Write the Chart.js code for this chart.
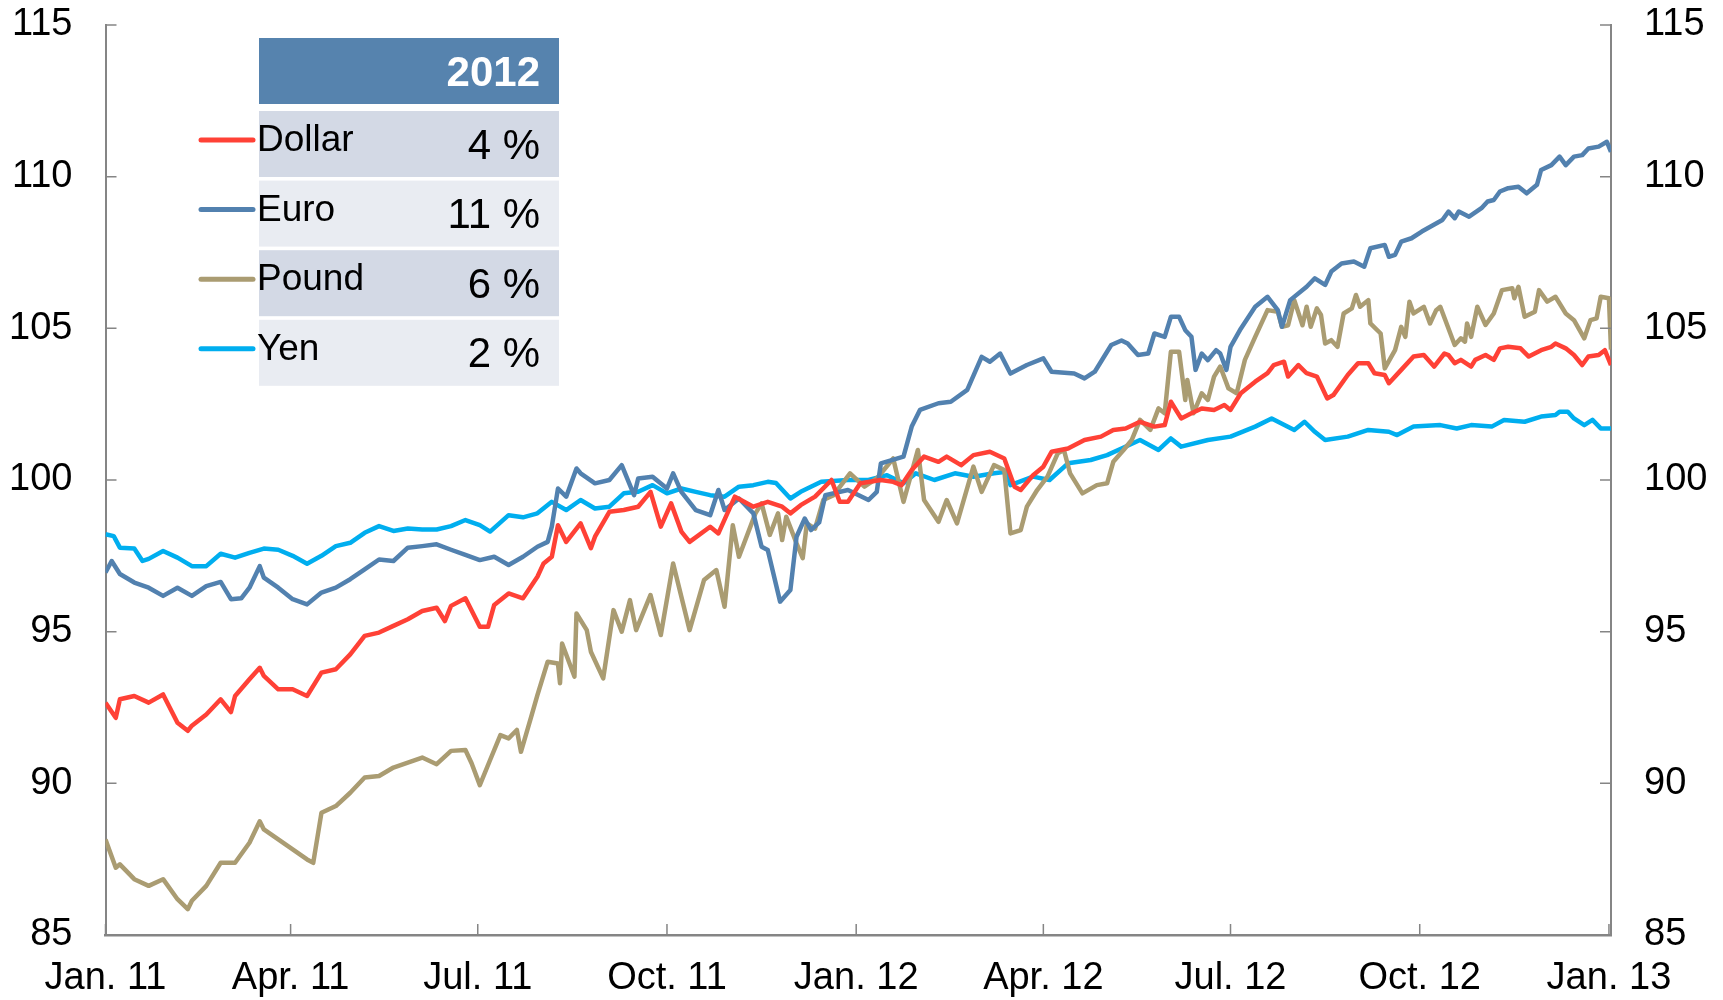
<!DOCTYPE html>
<html>
<head>
<meta charset="utf-8">
<script src="https://cdn.jsdelivr.net/npm/chart.js@4/dist/chart.umd.min.js"></script>
<style>
  html, body { margin: 0; padding: 0; background: #fff; }
  #wrap { width: 1723px; height: 1000px; }
</style>
</head>
<body>
<div id="wrap"><canvas id="fxChart" width="1723" height="1000"></canvas></div>
<script>
// x values are days since 1 Jan 2011
const xTickDays = [0, 90, 181, 273, 365, 456, 547, 639, 731];
const xTickLabels = ['Jan. 11', 'Apr. 11', 'Jul. 11', 'Oct. 11', 'Jan. 12', 'Apr. 12', 'Jul. 12', 'Oct. 12', 'Jan. 13'];
const yTicks = [85, 90, 95, 100, 105, 110, 115];

const dollarDays = [0,5,7,14,21,28,35,40,42,49,56,61,63,70,75,77,84,91,98,105,112,119,126,133,140,147,154,161,165,168,175,182,186,189,196,203,210,213,217,220,224,231,236,238,245,252,259,265,270,275,280,284,294,298,306,315,322,329,333,338,345,353,357,361,367,377,383,387,392,398,405,409,416,422,430,437,442,445,451,456,460,468,476,484,490,496,503,510,515,518,523,528,533,539,544,547,552,559,565,568,573,575,580,584,589,594,597,604,609,614,617,622,624,630,636,641,646,651,653,656,659,664,666,671,675,678,682,688,692,698,703,705,710,714,718,721,726,729,732];
const dollarVals = [92.66,92.16,92.77,92.88,92.66,92.93,92.0,91.73,91.9,92.27,92.77,92.35,92.88,93.43,93.81,93.54,93.1,93.1,92.88,93.65,93.76,94.25,94.86,94.97,95.19,95.41,95.68,95.79,95.35,95.85,96.1,95.16,95.16,95.88,96.26,96.1,96.81,97.25,97.47,98.51,97.96,98.57,97.75,98.13,98.95,99.01,99.12,99.61,98.46,99.23,98.3,97.96,98.46,98.24,99.45,99.12,99.28,99.12,98.9,99.17,99.45,100.0,99.28,99.28,99.89,100.0,99.94,99.83,100.33,100.77,100.6,100.77,100.49,100.82,100.93,100.71,99.78,99.67,100.16,100.44,100.93,101.04,101.32,101.43,101.65,101.7,101.92,101.76,101.81,102.58,102.03,102.2,102.36,102.31,102.47,102.31,102.86,103.24,103.52,103.79,103.9,103.41,103.79,103.52,103.41,102.69,102.8,103.46,103.85,103.85,103.52,103.46,103.19,103.63,104.07,104.12,103.74,104.17,104.12,103.85,103.96,103.74,103.96,104.12,103.96,104.34,104.39,104.34,104.07,104.28,104.39,104.5,104.34,104.12,103.79,104.07,104.12,104.28,103.79];

const euroDays = [0,3,7,14,21,28,35,42,49,56,61,66,70,75,77,84,91,98,105,112,119,126,133,140,147,154,161,168,175,182,189,196,203,210,215,217,220,224,229,231,238,245,251,257,259,266,273,276,280,287,294,298,301,308,315,319,322,328,333,336,340,343,347,350,361,371,375,377,388,392,396,405,411,419,426,430,435,440,448,456,460,471,476,481,489,494,497,502,507,510,515,518,522,525,528,530,533,536,540,542,545,547,552,559,565,570,572,576,584,588,593,596,601,607,612,615,622,624,627,630,635,640,650,653,656,658,663,669,672,675,678,682,687,691,696,698,703,707,710,714,718,721,726,730,732];
const euroVals = [96.95,97.33,96.9,96.62,96.45,96.18,96.45,96.18,96.5,96.64,96.07,96.1,96.45,97.16,96.78,96.45,96.07,95.9,96.29,96.45,96.73,97.05,97.38,97.33,97.77,97.82,97.88,97.7,97.53,97.36,97.47,97.2,97.47,97.8,97.96,98.46,99.72,99.45,100.38,100.22,99.89,100.0,100.49,99.5,100.05,100.11,99.72,100.22,99.61,99.01,98.84,99.67,99.01,99.39,98.9,97.8,97.69,95.99,96.37,98.13,98.73,98.35,98.6,99.5,99.67,99.34,99.61,100.55,100.77,101.76,102.31,102.53,102.58,102.97,104.06,103.9,104.17,103.51,103.79,104.01,103.57,103.51,103.35,103.57,104.45,104.6,104.5,104.12,104.17,104.83,104.72,105.38,105.38,104.94,104.72,103.63,104.17,103.95,104.28,104.17,103.63,104.39,104.99,105.71,106.04,105.6,105.05,105.93,106.37,106.65,106.43,106.87,107.14,107.2,107.03,107.64,107.75,107.36,107.42,107.86,107.97,108.19,108.57,108.85,108.63,108.85,108.68,108.96,109.18,109.23,109.51,109.62,109.67,109.45,109.73,110.22,110.38,110.66,110.38,110.66,110.71,110.93,110.99,111.15,110.82];

const poundDays = [0,5,7,14,21,28,35,40,42,49,56,63,70,75,77,84,91,98,101,105,112,119,126,133,140,147,154,161,168,175,178,182,187,192,196,200,202,207,210,215,220,221,222,228,229,234,236,242,247,251,255,258,265,270,276,284,291,297,301,305,308,316,319,323,327,329,331,336,339,341,345,349,354,362,369,375,383,388,395,398,405,409,414,422,426,432,437,440,445,448,453,458,463,466,469,475,482,487,490,495,499,503,508,512,515,518,522,525,526,529,533,536,539,542,546,550,554,559,565,570,572,575,578,582,584,586,589,591,593,596,599,602,606,608,610,614,615,620,622,627,630,632,634,636,641,644,647,649,656,659,661,662,664,667,671,675,679,684,685,687,690,695,697,701,705,710,714,719,722,725,727,731,732];
const poundVals = [88.15,87.22,87.33,86.84,86.62,86.84,86.18,85.85,86.13,86.62,87.38,87.38,88.04,88.75,88.48,88.15,87.82,87.49,87.38,89.03,89.25,89.69,90.19,90.24,90.52,90.68,90.85,90.63,91.07,91.1,90.66,89.94,90.77,91.59,91.48,91.76,91.04,92.2,92.91,94.01,93.95,93.3,94.61,93.52,95.6,95.05,94.34,93.46,95.71,95.0,96.04,95.05,96.21,94.89,97.25,95.05,96.7,97.03,95.82,98.51,97.47,98.9,99.23,98.19,98.9,98.02,98.79,97.91,97.42,98.57,98.4,99.34,99.5,100.22,99.78,100.05,100.71,99.28,100.99,99.34,98.62,99.34,98.57,100.44,99.61,100.49,100.33,98.24,98.35,99.12,99.67,100.11,100.88,100.99,100.22,99.56,99.83,99.89,100.6,100.99,101.32,101.98,101.65,102.36,102.2,104.23,104.23,102.64,103.3,102.2,102.86,102.64,103.41,103.74,103.02,102.86,103.96,104.72,105.6,105.55,105.05,105.1,105.93,105.1,105.71,105.05,105.66,105.44,104.5,104.61,104.39,105.49,105.66,106.1,105.71,105.93,105.16,104.83,103.68,104.28,105.05,104.72,105.88,105.49,105.71,105.16,105.6,105.71,104.45,104.67,104.56,105.16,104.72,105.71,105.11,105.49,106.26,106.32,105.99,106.37,105.38,105.55,106.26,105.88,106.04,105.49,105.27,104.67,105.27,105.33,106.04,105.99,104.3];

const yenDays = [0,4,7,14,18,21,28,35,42,49,56,63,70,77,84,91,98,105,112,119,126,133,140,147,154,161,168,175,182,187,196,203,210,217,224,231,238,245,252,259,266,273,280,287,294,301,308,315,322,326,333,338,348,361,371,380,388,394,403,413,422,432,438,440,451,459,468,479,487,494,503,512,518,523,536,547,559,567,578,583,588,593,604,614,624,628,636,649,657,664,674,680,690,698,705,707,711,714,719,723,727,732];
const yenVals = [98.21,98.15,97.77,97.74,97.33,97.4,97.66,97.44,97.16,97.16,97.57,97.44,97.6,97.74,97.7,97.5,97.24,97.5,97.82,97.93,98.26,98.48,98.32,98.4,98.37,98.37,98.48,98.68,98.51,98.3,98.84,98.77,98.9,99.28,99.01,99.34,99.06,99.12,99.56,99.61,99.83,99.56,99.72,99.61,99.5,99.45,99.78,99.83,99.94,99.9,99.39,99.61,99.94,100.0,100.0,100.16,99.89,100.22,100.0,100.22,100.11,100.22,100.27,99.83,100.11,100.0,100.55,100.66,100.82,101.04,101.32,100.99,101.37,101.1,101.32,101.43,101.76,102.03,101.65,101.92,101.59,101.32,101.43,101.65,101.59,101.48,101.76,101.81,101.7,101.81,101.76,101.98,101.92,102.09,102.14,102.25,102.25,102.03,101.81,101.98,101.7,101.7];

const tableHeader = '2012';
const tableNames = ['Dollar', 'Euro', 'Pound', 'Yen'];
const tablePct = ['4 %', '11 %', '6 %', '2 %'];
const seriesColors = ['#FF4136', '#5281AF', '#AA9C72', '#00AEEF'];

const toPoints = (days, vals) => days.map((d, i) => ({ x: d, y: vals[i] }));

const FONT = '"Liberation Sans", Arial, sans-serif';
const AXIS = '#858585';

// inward tick marks on all three axes
const tickMarks = {
  id: 'tickMarks',
  afterDraw(chart) {
    const { ctx, chartArea: a, scales } = chart;
    ctx.save();
    ctx.strokeStyle = AXIS;
    ctx.lineWidth = 1.5;
    ctx.beginPath();
    yTicks.forEach(v => {
      const y = scales.y.getPixelForValue(v);
      ctx.moveTo(a.left, y); ctx.lineTo(a.left + 11, y);
      ctx.moveTo(a.right, y); ctx.lineTo(a.right - 11, y);
    });
    xTickDays.forEach(d => {
      const x = scales.x.getPixelForValue(d);
      ctx.moveTo(x, a.bottom); ctx.lineTo(x, a.bottom - 11);
    });
    ctx.stroke();
    ctx.restore();
  }
};

// legend drawn as the small table in the upper left
const legendTable = {
  id: 'legendTable',
  afterDraw(chart) {
    const ctx = chart.ctx;
    const left = 259, width = 300, right = 540;
    ctx.save();
    ctx.fillStyle = '#5683AE';
    ctx.fillRect(left, 38, width, 66);
    ctx.fillStyle = '#ffffff';
    ctx.font = 'bold 42px ' + FONT;
    ctx.textAlign = 'right';
    ctx.textBaseline = 'middle';
    ctx.fillText(tableHeader, right, 74);

    tableNames.forEach((name, i) => {
      const top = 111 + i * 69.6;
      ctx.fillStyle = i % 2 === 0 ? '#D3D9E5' : '#E9ECF2';
      ctx.fillRect(left, top, width, 66);

      ctx.strokeStyle = seriesColors[i];
      ctx.lineWidth = 5;
      ctx.lineCap = 'round';
      ctx.beginPath();
      ctx.moveTo(201, top + 29);
      ctx.lineTo(253, top + 29);
      ctx.stroke();

      ctx.fillStyle = '#000000';
      ctx.font = '37px ' + FONT;
      ctx.textAlign = 'left';
      ctx.fillText(name, 257, top + 30);
      ctx.font = '42px ' + FONT;
      ctx.textAlign = 'right';
      ctx.fillText(tablePct[i], right, top + 36);
    });
    ctx.restore();
  }
};

const series = [
  ['Dollar', dollarDays, dollarVals],
  ['Euro', euroDays, euroVals],
  ['Pound', poundDays, poundVals],
  ['Yen', yenDays, yenVals]
];

const noEdgePad = s => { s.paddingTop = 0; s.paddingBottom = 0; };

new Chart(document.getElementById('fxChart'), {
  type: 'line',
  data: {
    datasets: series.map((s, i) => ({
      label: s[0],
      data: toPoints(s[1], s[2]),
      borderColor: seriesColors[i],
      borderWidth: 4.5,
      pointRadius: 0,
      tension: 0,
      borderJoinStyle: 'round'
    }))
  },
  options: {
    responsive: false,
    animation: false,
    events: [],
    layout: { padding: { top: 25, left: 0, right: 0, bottom: 0 } },
    plugins: { legend: { display: false }, tooltip: { enabled: false } },
    scales: {
      x: {
        type: 'linear',
        min: 0,
        max: 732,
        afterBuildTicks: s => { s.ticks = xTickDays.map(v => ({ value: v })); },
        afterFit: s => { s.height = 65; s.paddingLeft = 0; s.paddingRight = 0; },
        grid: { display: false, drawTicks: false },
        border: { display: true, color: AXIS, width: 2.5 },
        ticks: {
          autoSkip: false, maxRotation: 0, padding: 21,
          color: '#000', font: { family: FONT, size: 38 },
          callback: (v, i) => xTickLabels[i]
        }
      },
      y: {
        position: 'left',
        min: 85, max: 115,
        afterBuildTicks: s => { s.ticks = yTicks.map(v => ({ value: v })); },
        afterFit: s => { s.width = 105.5; noEdgePad(s); },
        grid: { display: false, drawTicks: false },
        border: { display: true, color: AXIS, width: 2 },
        ticks: { padding: 33, color: '#000', font: { family: FONT, size: 38 } }
      },
      y2: {
        position: 'right',
        min: 85, max: 115,
        afterBuildTicks: s => { s.ticks = yTicks.map(v => ({ value: v })); },
        afterFit: s => { s.width = 112; noEdgePad(s); },
        grid: { display: false, drawTicks: false },
        border: { display: true, color: AXIS, width: 2 },
        ticks: { padding: 33, color: '#000', font: { family: FONT, size: 38 } }
      }
    }
  },
  plugins: [tickMarks, legendTable]
});
</script>
</body>
</html>
